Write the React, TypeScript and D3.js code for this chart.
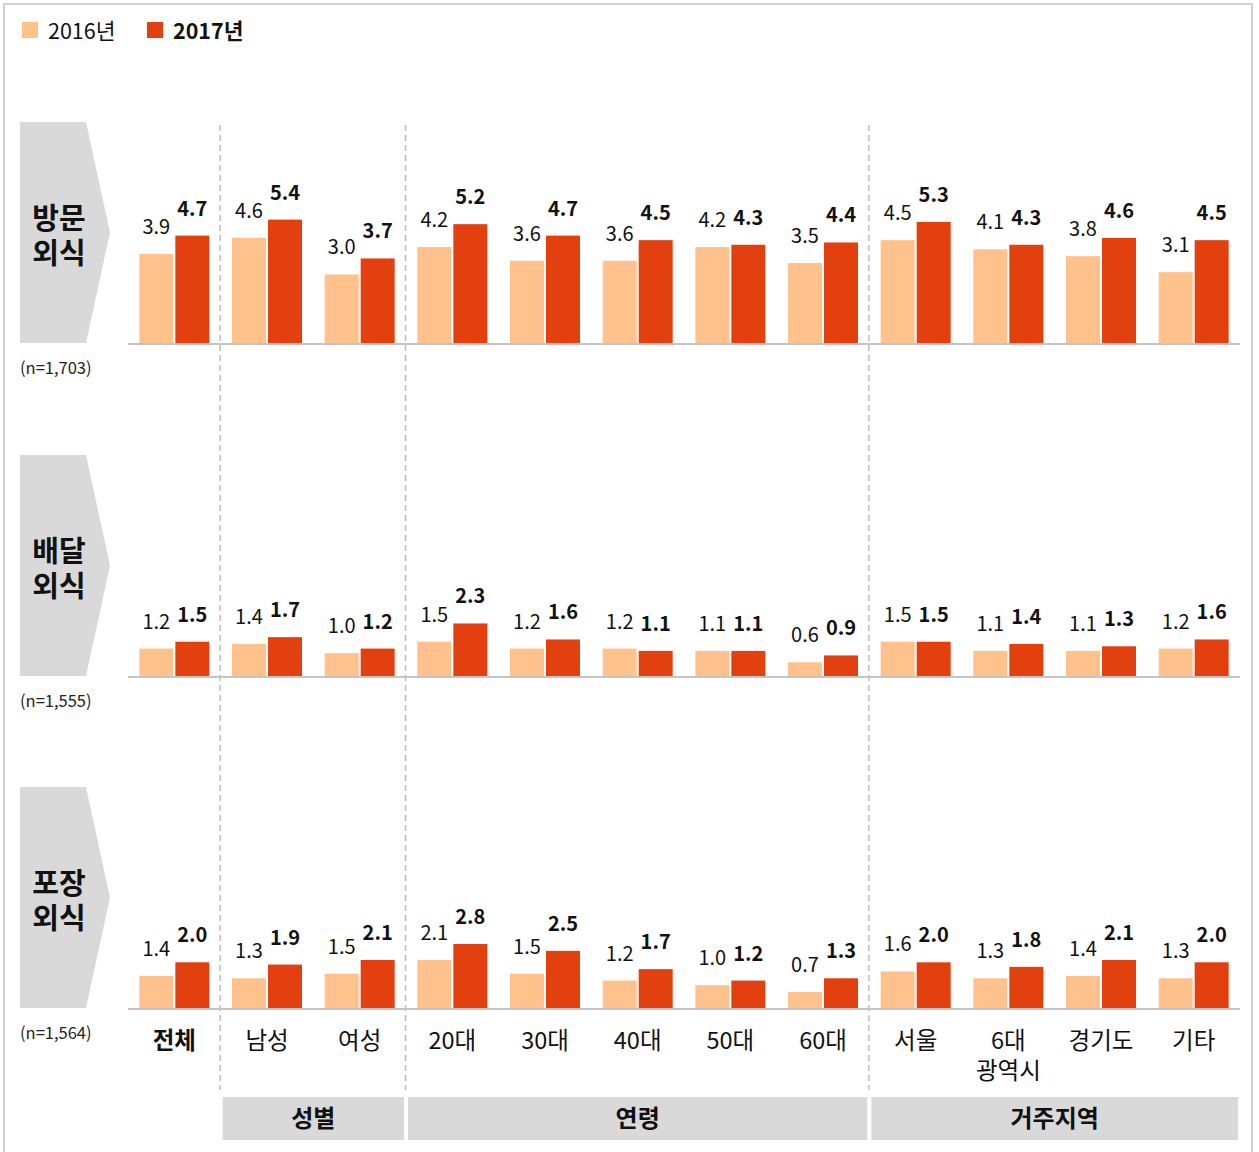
import React from "react";
import * as d3 from "d3";

const categories = ["전체", "남성", "여성", "20대", "30대", "40대", "50대", "60대", "서울", "6대\n광역시", "경기도", "기타"];
const seriesNames = ["2016년", "2017년"];
const panelNames = ["방문\n외식", "배달\n외식", "포장\n외식"];
const panelN = ["(n=1,703)", "(n=1,555)", "(n=1,564)"];

const visit2016 = [3.9, 4.6, 3.0, 4.2, 3.6, 3.6, 4.2, 3.5, 4.5, 4.1, 3.8, 3.1];
const visit2017 = [4.7, 5.4, 3.7, 5.2, 4.7, 4.5, 4.3, 4.4, 5.3, 4.3, 4.6, 4.5];
const delivery2016 = [1.2, 1.4, 1.0, 1.5, 1.2, 1.2, 1.1, 0.6, 1.5, 1.1, 1.1, 1.2];
const delivery2017 = [1.5, 1.7, 1.2, 2.3, 1.6, 1.1, 1.1, 0.9, 1.5, 1.4, 1.3, 1.6];
const takeout2016 = [1.4, 1.3, 1.5, 2.1, 1.5, 1.2, 1.0, 0.7, 1.6, 1.3, 1.4, 1.3];
const takeout2017 = [2.0, 1.9, 2.1, 2.8, 2.5, 1.7, 1.2, 1.3, 2.0, 1.8, 2.1, 2.0];

const groups = [
  { name: "성별", from: 1, to: 2 },
  { name: "연령", from: 3, to: 7 },
  { name: "거주지역", from: 8, to: 11 },
];

const panels = [
  [visit2016, visit2017],
  [delivery2016, delivery2017],
  [takeout2016, takeout2017],
];

const COLORS = ["#FFC28C", "#E3400F"];
const FONT = "'Noto Sans CJK KR', 'Noto Sans', sans-serif";

export default function App() {
  const W = 1259, H = 1152;
  const x0 = 128, x1 = 1240;
  const x = d3.scaleBand<number>().domain(d3.range(categories.length)).range([x0, x1]).padding(0);
  const baselines = [343, 676, 1008];
  const y = d3.scaleLinear().domain([0, 1]).range([0, 22.85]);
  const barW = 34;
  const gap = 1;

  const sepXs = [1, 3, 8].map((i) => (x(i) as number) - 0.5);

  return (
    <div style={{ position: "absolute", left: 0, top: 0 }}>
      <svg width={W} height={H} style={{ display: "block", fontFamily: FONT }}>
        <rect x={0} y={0} width={W} height={H} fill="#fff" />
        {/* border */}
        <path d={`M4,${H} V4 H1252 V${H}`} fill="none" stroke="#d0d0d0" strokeWidth={2} />

        {/* legend */}
        {seriesNames.map((s, i) => {
          const lx = i === 0 ? 22 : 147;
          return (
            <g key={s}>
              <rect x={lx} y={22} width={16} height={16} fill={COLORS[i]} />
              <text x={lx + 26} y={38.5} fontSize={21.5} fontWeight={i === 1 ? 700 : 400} fill="#111">{s}</text>
            </g>
          );
        })}

        {/* dashed separators */}
        {sepXs.map((sx, i) => (
          <line key={i} x1={sx} x2={sx} y1={125} y2={1090} stroke="#bdbdbd" strokeWidth={1.5} strokeDasharray="6,4" />
        ))}

        {panels.map((series, p) => {
          const base = baselines[p];
          const top = base - 221;
          const mid = (top + base) / 2;
          const lines = panelNames[p].split("\n");
          return (
            <g key={p}>
              <polygon points={`20,${top} 86,${top} 110,${mid} 86,${base} 20,${base}`} fill="#d9d9d9" />
              {lines.map((l, li) => (
                <text key={li} x={59} y={mid - 4 + li * 35} textAnchor="middle" fontSize={29} fontWeight={700} fill="#111">{l}</text>
              ))}
              <text x={20} y={base + 31} fontSize={16.5} fill="#222">{panelN[p]}</text>
              {categories.map((c, ci) => {
                const cx = (x(ci) as number) + x.bandwidth() / 2;
                return series.map((vals, si) => {
                  const v = vals[ci];
                  const h = y(v);
                  const bx = si === 0 ? cx - gap - barW : cx + gap;
                  return (
                    <g key={`${ci}-${si}`}>
                      <rect x={bx} y={base - h} width={barW} height={h} fill={COLORS[si]} />
                      <text x={bx + barW / 2} y={base - h - 20} textAnchor="middle" fontSize={20} fontWeight={si === 1 ? 700 : 400} fill="#111">{v.toFixed(1)}</text>
                    </g>
                  );
                });
              })}
              <line x1={x0} x2={x1} y1={base + 1} y2={base + 1} stroke="#c4c4c4" strokeWidth={2} />
            </g>
          );
        })}

        {/* category labels */}
        {categories.map((c, ci) => {
          const cx = (x(ci) as number) + x.bandwidth() / 2;
          const lines = c.split("\n");
          return (
            <text key={ci} x={cx} textAnchor="middle" fontSize={23.5} fontWeight={ci === 0 ? 700 : 400} fill="#111">
              {lines.map((l, li) => (
                <tspan key={li} x={cx} y={1049 + li * 30}>{l}</tspan>
              ))}
            </text>
          );
        })}

        {/* group boxes */}
        {groups.map((g) => {
          const gx0 = (x(g.from) as number) + 2;
          const gx1 = (x(g.to) as number) + x.bandwidth() - 2;
          return (
            <g key={g.name}>
              <rect x={gx0} y={1097} width={gx1 - gx0} height={43} fill="#d9d9d9" />
              <text x={(gx0 + gx1) / 2} y={1127} textAnchor="middle" fontSize={24} fontWeight={700} fill="#111">{g.name}</text>
            </g>
          );
        })}
      </svg>
    </div>
  );
}
